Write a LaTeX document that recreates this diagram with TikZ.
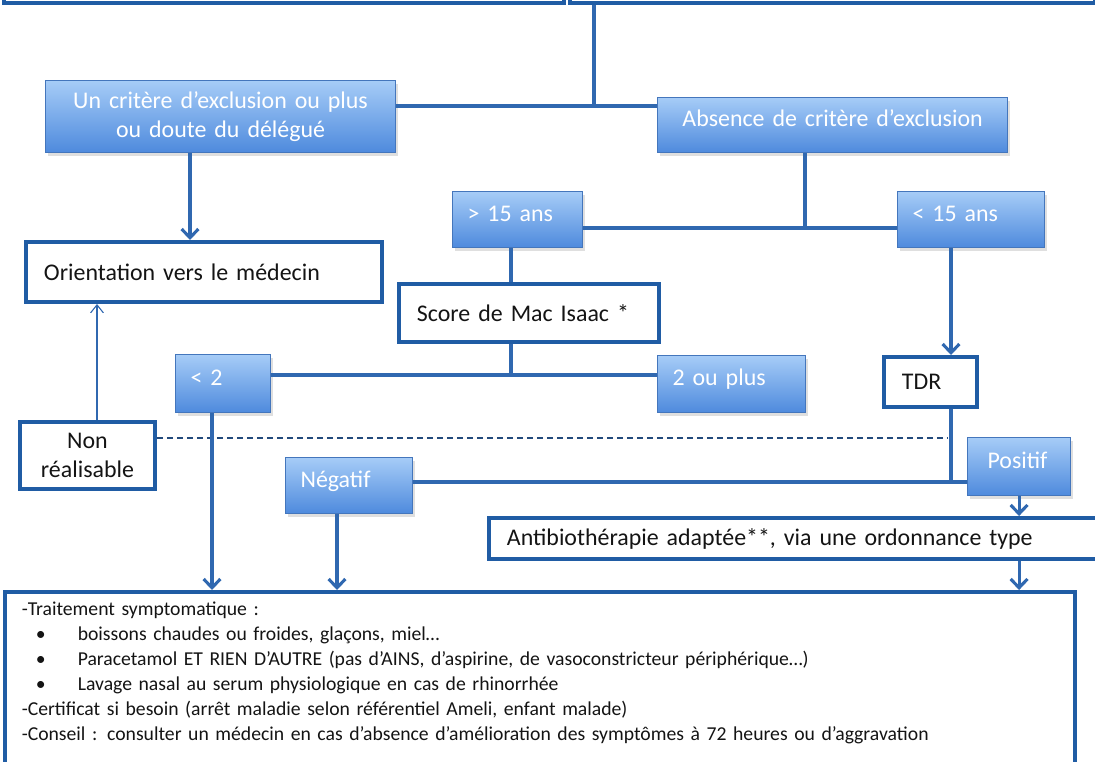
\documentclass[tikz,border=0pt]{standalone}
\usepackage{fontspec}
\setmainfont{Carlito}
\usepackage{xcolor}
\usetikzlibrary{positioning,arrows.meta,calc,shadows}
\definecolor{boxtop}{RGB}{166,204,247}
\definecolor{boxbot}{RGB}{78,138,221}
\definecolor{boxline}{RGB}{68,118,188}
\definecolor{linkcol}{RGB}{48,104,176}
\definecolor{framecol}{RGB}{32,92,164}
\definecolor{inkcol}{RGB}{20,20,20}

\begin{document}
\begin{tikzpicture}[
  x=0.25mm, y=-0.25mm,
  font=\fontsize{17}{21}\selectfont,
  choice/.style={draw=boxline, line width=0.8pt, top color=boxtop, bottom color=boxbot,
                 text=white, anchor=north west, align=left, inner xsep=3.75mm,
                 drop shadow={shadow xshift=0.7mm, shadow yshift=-0.9mm, opacity=0.25}},
  lift/.style={text height=3.2mm, text depth=2.4mm},
  result/.style={draw=framecol, line width=2.8pt, fill=white, text=inkcol,
                 anchor=north west, align=left, inner xsep=4.5mm},
  link/.style={draw=linkcol, line width=2.2pt},
  flow/.style={link, -{Straight Barb[length=2.2mm, width=4.2mm]}},
  back/.style={draw=linkcol, line width=0.8pt, -{Straight Barb[length=2mm, width=3.2mm]}},
  notdone/.style={draw=linkcol!70!black, line width=0.8pt, dash pattern=on 1.5mm off 1mm},
]
\useasboundingbox (0,0) rectangle (1095,762);

% ---------- top (cut off) ----------
\node[result, anchor=south west, minimum width=140mm, minimum height=20mm] (topL) at (2,5) {};
\node[result, anchor=south west, minimum width=131.25mm, minimum height=20mm] (topR) at (568,5) {};

% ---------- exclusion criteria ----------
\node[choice, align=center, text width=80mm, minimum height=18mm] (crit) at (45,80)
  {Un critère d’exclusion ou plus\\ ou doute du délégué};
\node[choice, lift, align=center, text width=80mm, minimum height=13.75mm] (abs) at (657,97)
  {Absence de critère d’exclusion};

\coordinate (j1) at (594,106);
\draw[link] (topR.south -| j1) -- (j1);
\draw[link] (crit.east |- j1) -- (abs.west |- j1);

\node[result, text width=80mm, minimum height=15mm] (orient) at (24,240)
  {Orientation vers le médecin};
\coordinate (cA) at (190,0);
\draw[flow] (crit.south -| cA) -- (orient.north -| cA);

% ---------- age ----------
\node[choice, lift, text width=25mm, minimum height=14mm] (gt15) at (452,191) {> 15 ans};
\node[choice, lift, text width=29.25mm, minimum height=14mm] (lt15) at (897,191) {< 15 ans};
\coordinate (j2) at (805,228);
\draw[link] (abs.south -| j2) -- (j2);
\draw[link] (gt15.east |- j2) -- (lt15.west |- j2);

% ---------- Mac Isaac score ----------
\node[result, text width=56mm, minimum height=14.5mm] (score) at (397,282) {Score de Mac Isaac *};
\coordinate (cD) at (511,0);
\draw[link] (gt15.south -| cD) -- (score.north -| cD);

\node[choice, lift, text width=16.25mm, minimum height=14.5mm] (lt2) at (175,354) {< 2};
\node[choice, lift, text width=29.5mm, minimum height=14.25mm] (ou2) at (657,355) {2 ou plus};
\coordinate (j3) at (511,375);
\draw[link] (score.south -| j3) -- (j3);
\draw[link] (lt2.east |- j3) -- (ou2.west |- j3);

% ---------- TDR ----------
\node[result, text width=14.25mm, minimum height=12.5mm] (tdr) at (882,355) {TDR};
\coordinate (cE) at (951,0);
\draw[flow] (lt15.south -| cE) -- (tdr.north -| cE);

\node[result, align=center, text width=29.75mm, minimum height=16.75mm, inner xsep=2mm,
      font=\fontsize{17}{20}\selectfont] (nonr) at (18,420)
  {Non\\ réalisable};
\coordinate (cF) at (97,0);
\draw[back] (nonr.north -| cF) -- (orient.south -| cF);
\coordinate (jd) at (948,438);
\draw[notdone] (nonr.east |- jd) -- (jd);

\node[choice, lift, text width=24.25mm, minimum height=14mm] (neg) at (285,457) {Négatif};
\node[choice, lift, text width=15.75mm, minimum height=14.5mm, inner xsep=5mm] (pos) at (967,437) {Positif};
\coordinate (j4) at (951,482);
\draw[link] (tdr.south -| j4) -- (j4);
\draw[link] (neg.east |- j4) -- (pos.west |- j4);

\node[result, text width=146mm, minimum height=10.25mm] (antib) at (487,516)
  {Antibiothérapie adaptée**, via une ordonnance type};
\draw[flow] (pos.south) -- (antib.north -| pos.south);

% ---------- symptomatic treatment ----------
\node[result, text width=259mm, inner xsep=4.2mm, inner ysep=2.5mm,
      font=\fontsize{14}{17.8}\selectfont] (final) at (3,590)
  {-Traitement symptomatique :\\
   \hspace*{3.5mm}\makebox[10.5mm][l]{•}boissons chaudes ou froides, glaçons, miel…\\
   \hspace*{3.5mm}\makebox[10.5mm][l]{•}Paracetamol ET RIEN D’AUTRE (pas d’AINS, d’aspirine, de vasoconstricteur périphérique…)\\
   \hspace*{3.5mm}\makebox[10.5mm][l]{•}Lavage nasal au serum physiologique en cas de rhinorrhée\\
   -Certificat si besoin (arrêt maladie selon référentiel Ameli, enfant malade)\\
   -Conseil : consulter un médecin en cas d’absence d’amélioration des symptômes à 72 heures ou d’aggravation\\
   \mbox{}\\ \mbox{}};
\coordinate (cG) at (212,0);
\coordinate (cH) at (337,0);
\draw[flow] (lt2.south -| cG) -- (final.north -| cG);
\draw[flow] (neg.south -| cH) -- (final.north -| cH);
\draw[flow] (antib.south -| pos.south) -- (final.north -| pos.south);

\end{tikzpicture}
\end{document}
